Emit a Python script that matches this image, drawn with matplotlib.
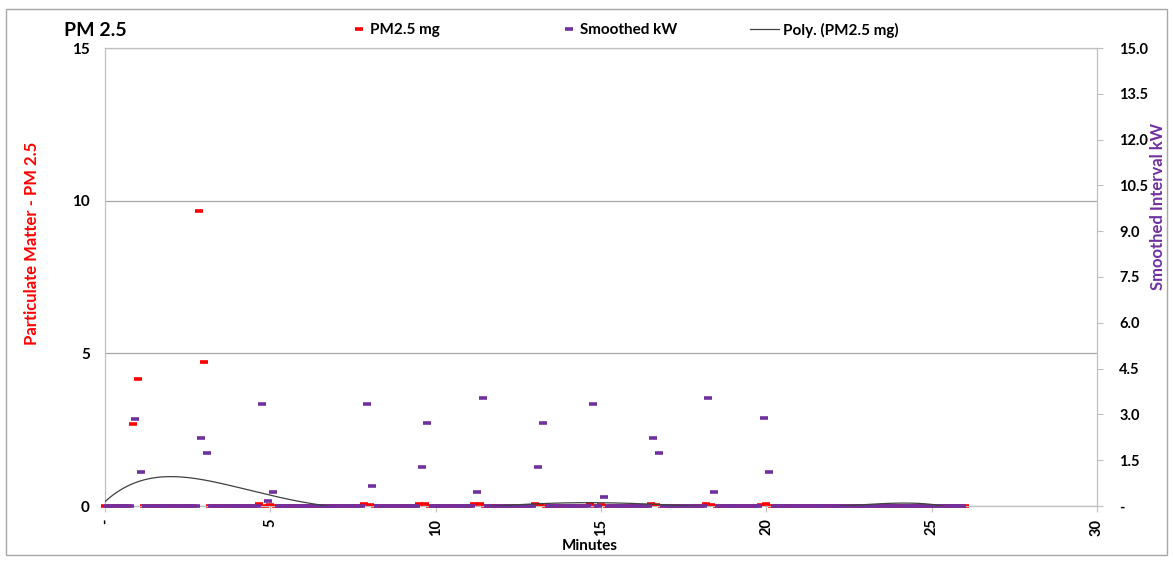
import numpy as np
import matplotlib
matplotlib.use("Agg")
import matplotlib.pyplot as plt
from matplotlib.lines import Line2D
from matplotlib.patches import Rectangle

plt.rcParams['font.family'] = ['Lato', 'DejaVu Sans']
plt.rcParams['font.weight'] = 'bold'

# sampling: PM2.5 every 10 s, kW every 10 s offset by 5 s, up to 26 min
pm_step_s = 10
kw_offset_s = 5
end_s = 1560

# non-zero PM2.5 readings (seconds, mg)
pm_times_s = [50, 60, 170, 180, 280, 300, 470, 480, 570, 580, 670, 680,
              780, 790, 880, 900, 990, 1000, 1090, 1100, 1190, 1200]
pm_values = [2.69, 4.16, 9.66, 4.72, 0.07, 0.03, 0.05, 0.03, 0.06, 0.05, 0.05, 0.07,
             0.06, 0.04, 0.05, 0.04, 0.05, 0.03, 0.06, 0.03, 0.04, 0.05]

# non-zero smoothed kW readings (seconds, kW)
kw_times_s = [55, 65, 175, 185, 285, 295, 305, 475, 485, 575, 585, 675, 685,
              785, 795, 885, 905, 995, 1005, 1095, 1105, 1195, 1205]
kw_values = [2.85, 1.11, 2.23, 1.74, 3.34, 0.16, 0.46, 3.34, 0.65, 1.28, 2.72, 0.46, 3.54,
             1.28, 2.72, 3.34, 0.30, 2.23, 1.74, 3.54, 0.46, 2.88, 1.11]

x_ticks = [0, 5, 10, 15, 20, 25, 30]
left_ticks = [0, 5, 10, 15]
right_ticks = [0, 1.5, 3.0, 4.5, 6.0, 7.5, 9.0, 10.5, 12.0, 13.5, 15.0]

red = '#FF0000'
purple = '#7030A0'
axis_gray = '#BFBFBF'

# build series
pm_t = np.arange(0, end_s + 1, pm_step_s)
pm_y = np.zeros(len(pm_t))
for t, v in zip(pm_times_s, pm_values):
    pm_y[pm_t == t] = v
kw_t = np.arange(kw_offset_s, end_s, pm_step_s)
kw_y = np.zeros(len(kw_t))
for t, v in zip(kw_times_s, kw_values):
    kw_y[kw_t == t] = v
pm_min = pm_t / 60.0
kw_min = kw_t / 60.0

# polynomial trendline (order 6) of PM2.5
coef = np.polyfit(pm_min, pm_y, 6)
fit_x = np.linspace(pm_min.min(), pm_min.max(), 600)
fit_y = np.polyval(coef, fit_x)

W, H = 1173, 561
fig = plt.figure(figsize=(W / 100, H / 100), dpi=100)
fig.patches.append(Rectangle((6 / W, 6 / H), (W - 12) / W, (H - 15) / H, transform=fig.transFigure,
                             fill=False, edgecolor='#A6A6A6', linewidth=1.0))

ax = fig.add_axes([105 / W, 1 - 506 / H, (1097 - 105) / W, (506 - 48) / H])
ax2 = ax.twinx()

ax.plot(pm_min, pm_y, linestyle='none', marker='_', markersize=6, markeredgewidth=2.6,
        color=red, clip_on=False, zorder=3)
ax2.plot(kw_min, kw_y, linestyle='none', marker='_', markersize=6, markeredgewidth=2.6,
         color=purple, clip_on=False, zorder=3)
ax2.plot(fit_x, fit_y, color='#404040', linewidth=0.9, zorder=4)

ax.set_xlim(0, 30)
ax.set_ylim(0, 15)
ax2.set_ylim(0, 15)

ax.set_xticks(x_ticks)
ax.set_xticklabels(['-' if v == 0 else str(v) for v in x_ticks], rotation=90, fontsize=10.5)
ax.set_yticks(left_ticks)
ax.set_yticklabels([str(v) for v in left_ticks], fontsize=11)
ax2.set_yticks(right_ticks)
ax2.set_yticklabels(['-' if v == 0 else f'{v:.1f}' for v in right_ticks], fontsize=10.5)

ax.grid(axis='y', color='#A6A6A6', linewidth=0.9)
ax.set_axisbelow(True)
ax.tick_params(axis='y', length=0, pad=11)
ax.tick_params(axis='x', length=4, color=axis_gray, pad=5)
ax2.tick_params(axis='y', length=4, color=axis_gray, pad=12)

for a in (ax, ax2):
    for s in a.spines.values():
        s.set_color(axis_gray)
        s.set_zorder(1)

fig.text(590 / W, 1 - 546 / H, 'Minutes', fontsize=11, fontweight='bold', ha='center', va='center')
fig.text(32 / W, 1 - 243 / H, 'Particulate Matter - PM 2.5', color=red, fontsize=12,
         fontweight='bold', rotation=90, ha='center', va='center')
fig.text(1158 / W, 1 - 206 / H, 'Smoothed Interval kW', color=purple, fontsize=12,
         fontweight='bold', rotation=90, ha='center', va='center')

fig.text(64 / W, 1 - 30 / H, 'PM 2.5', fontsize=14, fontweight='bold', va='center', ha='left')

entries = [
    (Line2D([], [], linestyle='none', marker='_', markersize=6, markeredgewidth=2.6, color=red),
     'PM2.5 mg', 351, 1.0),
    (Line2D([], [], linestyle='none', marker='_', markersize=6, markeredgewidth=2.6, color=purple),
     'Smoothed kW', 561, 1.0),
    (Line2D([], [], color='#404040', linewidth=0.9), 'Poly. (PM2.5 mg)', 750, 1.9),
]
for h, lab, xpos, hl in entries:
    fig.legend(handles=[h], labels=[lab], loc='center left', bbox_to_anchor=(xpos / W, 1 - 30 / H),
               frameon=False, handlelength=hl, handletextpad=0.25, borderpad=0,
               borderaxespad=0, prop={'weight': 'bold', 'size': 11})

fig.savefig('out.png', dpi=100)
